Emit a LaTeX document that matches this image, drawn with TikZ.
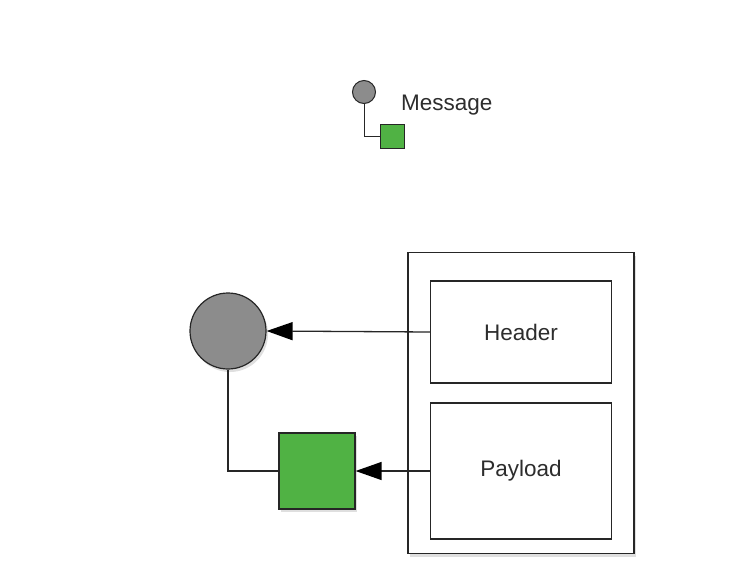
\documentclass[tikz,border=0pt]{standalone}
\usepackage{fontspec}
\setmainfont{Liberation Sans}
\usetikzlibrary{arrows.meta,shadows}
\definecolor{msggray}{RGB}{140,140,140}
\definecolor{msggreen}{RGB}{80,178,68}
\definecolor{txt}{RGB}{45,45,45}
\tikzset{
  shade/.style={drop shadow={opacity=0.25,shadow xshift=2pt,shadow yshift=-3pt}},
  bigcircle/.style={circle,draw=black!85,line width=1.2pt,fill=msggray,minimum size=76pt,inner sep=0pt,shade},
  bigsquare/.style={rectangle,draw=black!85,line width=1.2pt,fill=msggreen,minimum size=76pt,inner sep=0pt,shade},
  smallcircle/.style={circle,draw=black!85,line width=1pt,fill=msggray,minimum size=23pt,inner sep=0pt},
  smallsquare/.style={rectangle,draw=black!85,line width=1pt,fill=msggreen,minimum size=24pt,inner sep=0pt},
  part/.style={rectangle,draw=black!85,line width=1.2pt,fill=white,minimum width=181pt,inner sep=0pt,text=txt,font=\fontsize{22.5}{26}\selectfont},
  wire/.style={draw=black!85,line width=1.3pt},
  arrowline/.style={wire,-{Triangle[length=26pt,width=18pt,color=black]}},
  lbl/.style={text=txt,font=\fontsize{22.5}{26}\selectfont,inner sep=0pt}
}
\begin{document}
\begin{tikzpicture}[x=1pt,y=-1pt]
\useasboundingbox (0,0) rectangle (756,568);
% legend
\node[smallcircle] (lc) at (364,92) {};
\node[smallsquare] (ls) at (392,136) {};
\draw[wire,line width=1pt] (lc.south) |- (ls.west);
\node[lbl,anchor=west] (lt) at (401,105) {Message};
% container
\node[rectangle,draw=black!85,line width=1.5pt,fill=white,minimum width=226pt,minimum height=301pt,inner sep=0pt,shade] (outer) at (521,403) {};
\node[part,minimum height=102pt] (header) at (521,332) {Header};
\node[part,minimum height=136pt] (payload) at (521,471) {Payload};
% elements
\node[bigcircle] (circ) at (228,331) {};
\node[bigsquare] (sq) at (317,471) {};
\draw[arrowline] (header.west) -- (circ.east);
\draw[arrowline] (payload.west) -- (sq.east);
\draw[wire] (circ.south) |- (sq.west);
\end{tikzpicture}
\end{document}
